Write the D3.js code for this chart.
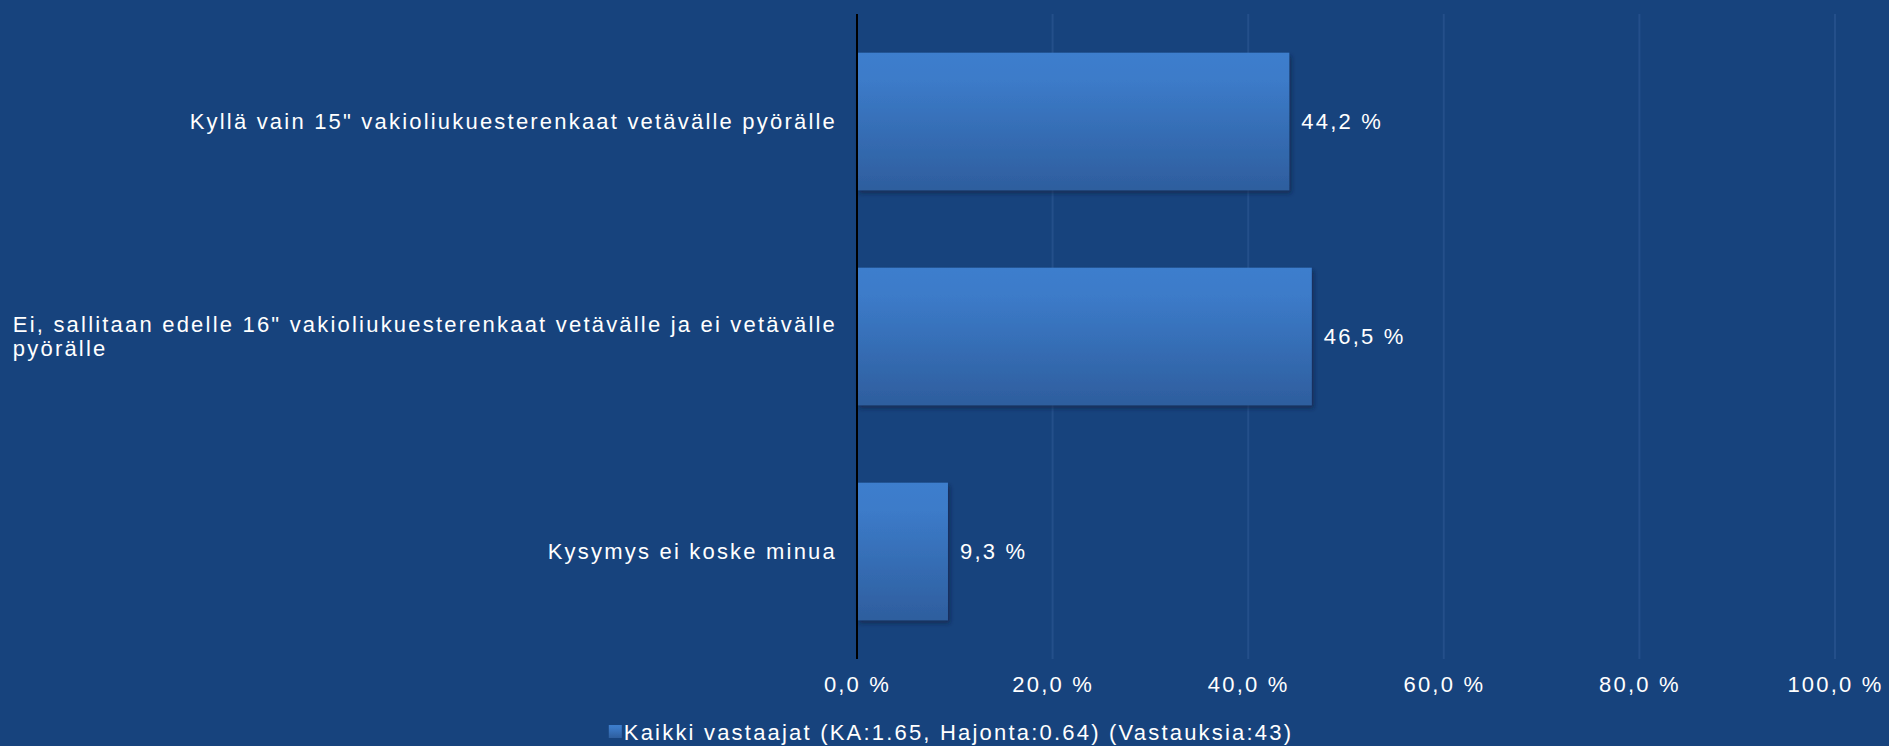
<!DOCTYPE html>
<html lang="fi">
<head>
<meta charset="UTF-8">
<title>Kaikki vastaajat</title>
<script src="https://d3js.org/d3.v7.min.js"></script>
<style>
 html, body {
   margin: 0;
   padding: 0;
   background: #17437d;
   overflow: hidden;
 }
 svg text {
   font-family: "Liberation Sans", Arial, sans-serif;
   fill: #fff;
   font-size: 22px;
   letter-spacing: 2.2px;
 }
 .grid line {
   stroke: #244f8a;
   stroke-width: 2px;
 }
</style>
</head>
<body>
<div id="chart"></div>
<script>
// chart data
const categories = [
  'Kyllä vain 15" vakioliukuesterenkaat vetävälle pyörälle',
  'Ei, sallitaan edelle 16" vakioliukuesterenkaat vetävälle ja ei vetävälle pyörälle',
  'Kysymys ei koske minua'
];
const values = [44.2, 46.5, 9.3];
const ticks = [0, 20, 40, 60, 80, 100];
const seriesName = 'Kaikki vastaajat (KA:1.65, Hajonta:0.64) (Vastauksia:43)';

const width = 1889;
const height = 746;
const plot = { left: 857, right: 1835, top: 14, bottom: 659 };

const fmt = v => v.toFixed(1).replace('.', ',') + ' %';

const svg = d3.select('#chart').append('svg')
  .attr('width', width)
  .attr('height', height);

const defs = svg.append('defs');
const grad = defs.append('linearGradient')
  .attr('id', 'barGrad')
  .attr('x1', 0).attr('y1', 0).attr('x2', 0).attr('y2', 1);
grad.append('stop').attr('offset', '0%').attr('stop-color', '#3d7ecd');
grad.append('stop').attr('offset', '20%').attr('stop-color', '#3c7bc9');
grad.append('stop').attr('offset', '100%').attr('stop-color', '#2e5e9e');

const shadow = defs.append('filter')
  .attr('id', 'shadow')
  .attr('x', '-10%').attr('y', '-10%')
  .attr('width', '130%').attr('height', '130%');
shadow.append('feDropShadow')
  .attr('dx', 2).attr('dy', 3)
  .attr('stdDeviation', 2)
  .attr('flood-color', '#0a1e3c')
  .attr('flood-opacity', 0.6);

const x = d3.scaleLinear()
  .domain([0, 100])
  .range([plot.left, plot.right]);

const y = d3.scaleBand()
  .domain(categories)
  .range([plot.top, plot.bottom])
  .paddingInner(0.36)
  .paddingOuter(0.18);

// grid lines
svg.append('g')
  .attr('class', 'grid')
  .selectAll('line')
  .data(ticks.slice(1))
  .enter()
  .append('line')
  .attr('x1', d => x(d))
  .attr('x2', d => x(d))
  .attr('y1', plot.top)
  .attr('y2', plot.bottom);

// x axis tick labels
const xAxis = d3.axisBottom(x)
  .tickValues(ticks)
  .tickFormat(fmt)
  .tickSize(0)
  .tickPadding(0);

const xg = svg.append('g')
  .attr('transform', `translate(0,${plot.bottom + 22})`)
  .call(xAxis);
xg.select('.domain').remove();
xg.selectAll('text')
  .attr('fill', '#fff')
  .attr('dy', '0.5em')
  .style('font-size', '22px');

// bars
svg.append('g')
  .selectAll('rect')
  .data(values)
  .enter()
  .append('rect')
  .attr('x', x(0))
  .attr('y', (d, i) => y(categories[i]))
  .attr('width', d => x(d) - x(0))
  .attr('height', y.bandwidth())
  .attr('fill', 'url(#barGrad)')
  .attr('filter', 'url(#shadow)');

// value labels
svg.append('g')
  .selectAll('text')
  .data(values)
  .enter()
  .append('text')
  .attr('x', d => x(d) + 12)
  .attr('y', (d, i) => y(categories[i]) + y.bandwidth() / 2)
  .attr('dy', '0.35em')
  .text(fmt);

// y axis line
svg.append('line')
  .attr('x1', x(0)).attr('x2', x(0))
  .attr('y1', plot.top).attr('y2', plot.bottom)
  .attr('stroke', '#000')
  .attr('stroke-width', 2);

// category labels, wrapped to fit left of the axis
const labelRight = plot.left - 20;
const labelMax = 836;
const lineH = 24;

categories.forEach((cat, i) => {
  const cy = y(cat) + y.bandwidth() / 2;
  const t = svg.append('text').attr('text-anchor', 'start');
  const words = cat.split(' ');
  let lines = [];
  let cur = [];
  const probe = t.append('tspan');
  words.forEach(w => {
    cur.push(w);
    probe.text(cur.join(' '));
    if (probe.node().getComputedTextLength() > labelMax && cur.length > 1) {
      cur.pop();
      lines.push(cur.join(' '));
      cur = [w];
    }
  });
  lines.push(cur.join(' '));
  probe.remove();

  let widest = 0;
  const spans = lines.map((l, j) => t.append('tspan')
    .attr('y', cy + (j - (lines.length - 1) / 2) * lineH)
    .attr('dy', '0.35em')
    .text(l));
  spans.forEach(s => { widest = Math.max(widest, s.node().getComputedTextLength()); });
  spans.forEach(s => s.attr('x', labelRight - widest));
});

// legend
const legend = svg.append('g');
const legendText = legend.append('text')
  .attr('x', 15)
  .attr('y', 0)
  .attr('dy', '0.35em')
  .text(seriesName);
legend.insert('rect', 'text')
  .attr('x', 0)
  .attr('y', -7)
  .attr('width', 13)
  .attr('height', 13)
  .attr('fill', 'url(#barGrad)');
const lw = 15 + legendText.node().getComputedTextLength();
legend.attr('transform', `translate(${951 - lw / 2},${732})`);
</script>
</body>
</html>
